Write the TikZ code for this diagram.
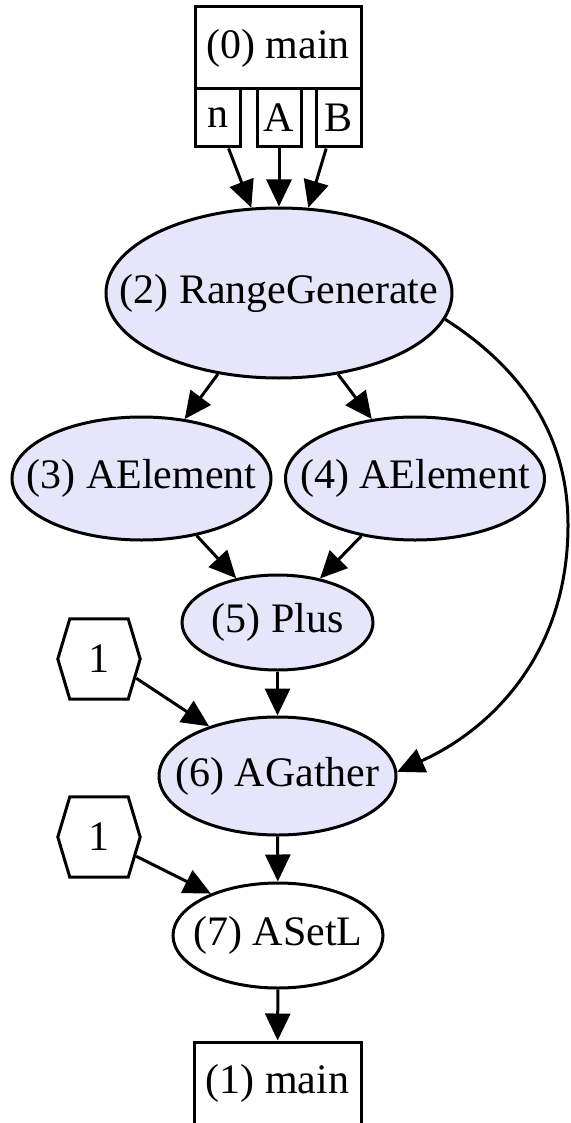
\documentclass[tikz,border=0pt]{standalone}
\usepackage{fontspec}
\setmainfont{Liberation Serif}
\usetikzlibrary{arrows.meta,shapes.geometric}
\definecolor{lav}{RGB}{230,230,250}
% text that does not widen its node
\newcommand\flatlabel[1]{\makebox[0pt]{#1}}
\begin{document}
\begin{tikzpicture}[x=1pt,y=-1pt,
  every node/.style={font=\fontsize{42}{50}\selectfont},
  oval/.style={ellipse, draw, line width=3pt, inner sep=0pt},
  opnode/.style={oval, fill=lav},
  cell/.style={rectangle, draw, line width=3pt, inner sep=0pt},
  constbox/.style={rectangle, inner sep=0pt, minimum width=82pt, minimum height=80pt},
  hexline/.style={line width=3pt, line join=miter},
  arr/.style={line width=3pt, -{Triangle[length=27pt,width=25pt]}}
]
\useasboundingbox (0,0) rectangle (570,1123);

% entry record with its three ports
\node[cell, minimum width=166pt, minimum height=82pt] (main0) at (278,48) {\flatlabel{(0) main}};
\node[cell, minimum width=45pt, minimum height=58pt] (pn) at (217.5,118) {\flatlabel{n}};
\node[cell, minimum width=44pt, minimum height=58pt] (pA) at (279,118) {\flatlabel{A}};
\node[cell, minimum width=45pt, minimum height=58pt] (pB) at (338.5,118) {\flatlabel{B}};

% operation nodes
\node[opnode, minimum width=346pt, minimum height=170pt] (n2) at (279,293) {\flatlabel{(2) RangeGenerate}};
\node[opnode, minimum width=259pt, minimum height=123pt] (n3) at (141.5,478.5) {\flatlabel{(3) AElement}};
\node[opnode, minimum width=259pt, minimum height=123pt] (n4) at (415,478.5) {\flatlabel{(4) AElement}};
\node[opnode, minimum width=191pt, minimum height=95pt] (n5) at (277.5,622.5) {\flatlabel{(5) Plus}};
\node[opnode, minimum width=237pt, minimum height=118pt] (n6) at (277.5,776) {\flatlabel{(6) AGather}};
\node[oval, minimum width=210pt, minimum height=105pt] (n7) at (278,935.5) {\flatlabel{(7) ASetL}};

% exit record
\node[cell, minimum width=167pt, minimum height=82pt] (main1) at (277.5,1083) {\flatlabel{(1) main}};

% constant inputs, outlined as hexagons
\node[constbox] (c1) at (99,659) {\flatlabel{1}};
\node[constbox] (c2) at (99,837) {\flatlabel{1}};
\foreach \h in {c1,c2}{
  \draw[hexline] (\h.west) -- ([xshift=12pt]\h.north west) -- ([xshift=-12pt]\h.north east)
    -- (\h.east) -- ([xshift=-12pt]\h.south east) -- ([xshift=12pt]\h.south west) -- cycle;
}

% data flow
\draw[arr] (pn.-70) -- (n2.108.6);
\draw[arr] (pA.south) -- (n2.90);
\draw[arr] (pB.-112) -- (n2.71.4);
\draw[arr] (n2.233) -- (n3.54);
\draw[arr] (n2.-54) -- (n4.126.4);
\draw[arr] (n3.-46.5) -- (n5.133);
\draw[arr] (n4.-133.8) -- (n5.46.3);
\draw[arr] (n5) -- (n6);
\draw[arr] ([xshift=-4pt]c1.-25) -- (n6.144.8);
\coordinate (bend) at (568,525);
\draw[arr] (n2.-9.2) .. controls (540,380) and (568,455) .. (bend)
  .. controls (568,655) and (490,730) .. (n6.2.9);
\draw[arr] (n6) -- (n7);
\draw[arr] ([xshift=-4pt]c2.-25) -- (n7.148);
\draw[arr] (n7) -- (main1);
\end{tikzpicture}
\end{document}
